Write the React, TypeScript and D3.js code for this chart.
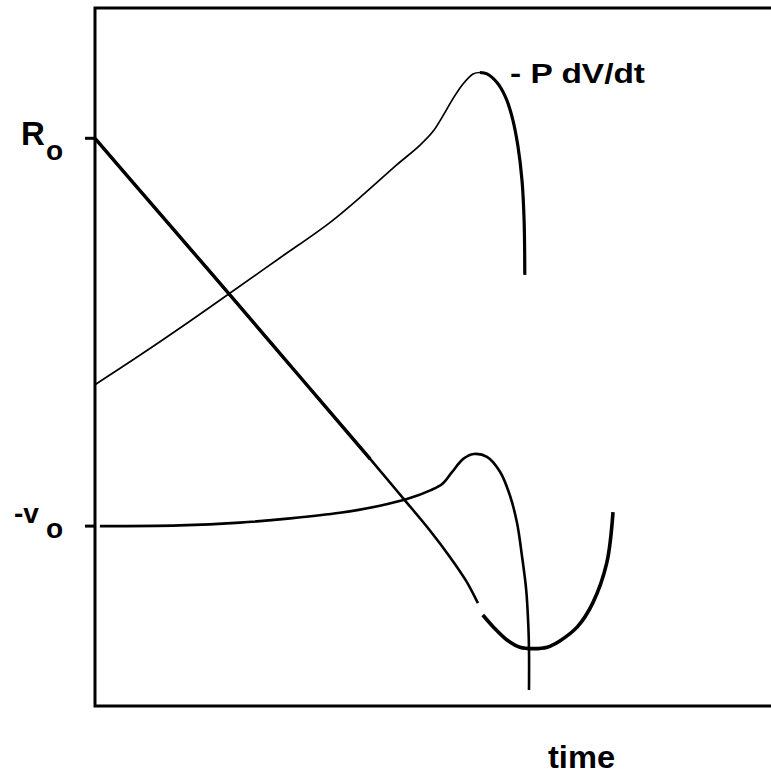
import React from 'react';
import * as d3 from 'd3';

// values, arbitrary units (time, magnitude)
const rDrift: [number, number][] = [
  [0, 81.1], [9.3, 70.3], [19.3, 58.7], [29.3, 47.0], [39.3, 35.3], [44.0, 29.7],
  [47.9, 25.0], [50.7, 21.3], [53.0, 17.9], [54.7, 14.7],
];
const rBounce: [number, number][] = [
  [55.4, 13.0], [56.9, 11.3], [58.9, 9.4], [60.7, 8.4], [62.6, 8.2], [64.6, 8.4],
  [66.4, 9.3], [68.9, 11.3], [71.1, 14.7], [73.1, 20.4], [74.0, 27.7],
];
const power: [number, number][] = [
  [0, 45.9], [6.4, 50.1], [13.6, 55.0], [19.3, 59.0], [26.4, 64.0], [33.6, 69.1],
  [38.6, 73.3], [43.1, 77.3], [46.4, 80.1], [48.3, 82.1], [49.7, 84.3], [51.1, 86.7],
  [52.6, 88.9], [54.0, 90.3], [55.0, 90.5], [56.0, 90.3], [57.4, 89.1], [58.6, 87.1],
  [59.6, 84.1], [60.4, 80.1], [61.0, 75.1], [61.3, 69.4], [61.4, 61.6],
];
const velocity: [number, number][] = [
  [0.7, 25.7], [12.1, 25.8], [20.7, 26.2], [27.9, 26.8], [35.0, 27.6], [40.7, 28.6],
  [45.0, 29.7], [47.9, 30.8], [49.6, 31.7], [51.0, 33.4], [52.6, 35.3], [54.1, 36.0],
  [56.0, 35.6], [57.9, 33.4], [59.3, 30.0], [60.3, 26.1], [61.0, 21.4], [61.6, 16.6],
  [61.9, 11.6], [62.0, 8.0], [62.0, 2.3],
];
const ticks = [
  { value: 81.1, main: 'R', sub: 'o' },
  { value: 25.7, main: '-v', sub: 'o' },
];
const powerLabel = '- P dV/dt';
const xLabel = 'time';

const W = 771;
const H = 776;
const left = 95;
const top = 8;
const bottom = 706;
const right = 800;

const x = d3.scaleLinear().domain([0, 100]).range([left, left + 700]);
const y = d3.scaleLinear().domain([0, 100]).range([bottom, bottom - 700]);

const line = d3
  .line<[number, number]>()
  .x((d) => x(d[0]))
  .y((d) => y(d[1]))
  .curve(d3.curveCatmullRom.alpha(0.5));

const font = '"Liberation Sans", Arial, sans-serif';

export default function App() {
  const peakIdx = power.findIndex((d) => d[1] === d3.max(power, (p) => p[1]));
  const powerFall = power.slice(peakIdx);
  // the drift line is drawn heavier in its upper half
  const driftTop = rDrift.filter((d) => d[0] <= 39.3);

  return (
    <svg
      width={W}
      height={H}
      style={{ position: 'absolute', left: 0, top: 0, background: '#fff' }}
      fontFamily={font}
    >
      <rect x={0} y={0} width={W} height={H} fill="#fff" />
      {/* frame */}
      <path
        d={`M${right},${top}H${left}V${bottom}H${right}`}
        fill="none"
        stroke="#000"
        strokeWidth={3}
      />

      {/* y ticks + labels */}
      {ticks.map((t, i) => (
        <line key={i} x1={left - 10} x2={left} y1={y(t.value)} y2={y(t.value)} stroke="#000" strokeWidth={3} />
      ))}
      <text x={21} y={145} fontSize={33} fontWeight="bold">{ticks[0].main}</text>
      <text x={46} y={160} fontSize={28} fontWeight="bold">{ticks[0].sub}</text>
      <text x={14} y={523} fontSize={28} fontWeight="bold">{ticks[1].main}</text>
      <text x={46} y={538} fontSize={28} fontWeight="bold">{ticks[1].sub}</text>

      {/* curves */}
      <path d={line(power) ?? ''} fill="none" stroke="#000" strokeWidth={1.7} />
      <path d={line(powerFall) ?? ''} fill="none" stroke="#000" strokeWidth={3.2} />
      <path d={line(velocity) ?? ''} fill="none" stroke="#000" strokeWidth={2.6} />
      <path d={line(rDrift) ?? ''} fill="none" stroke="#000" strokeWidth={2.6} />
      <path d={line(driftTop) ?? ''} fill="none" stroke="#000" strokeWidth={3.4} />
      <path d={line(rBounce) ?? ''} fill="none" stroke="#000" strokeWidth={3.6} />

      <text
        x={510}
        y={83}
        fontSize={27}
        fontWeight="bold"
        textLength={135}
        lengthAdjust="spacingAndGlyphs"
      >
        {powerLabel}
      </text>
      <text
        x={548}
        y={768}
        fontSize={32}
        fontWeight="bold"
        textLength={67}
        lengthAdjust="spacingAndGlyphs"
      >
        {xLabel}
      </text>
    </svg>
  );
}
